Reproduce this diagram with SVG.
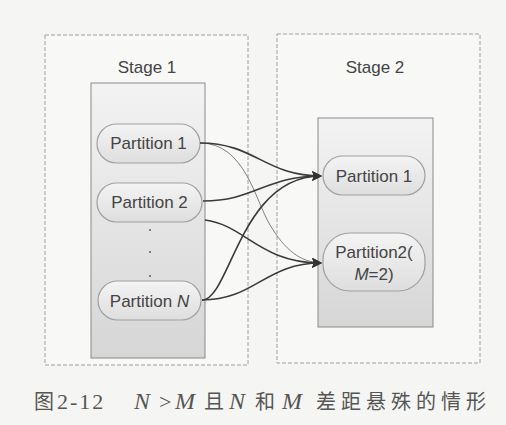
<svg xmlns="http://www.w3.org/2000/svg" width="506" height="425" viewBox="0 0 506 425">
<defs>
<linearGradient id="stageFill" x1="0" y1="0" x2="0" y2="1">
<stop offset="0" stop-color="#f3f3f3"/>
<stop offset="1" stop-color="#d6d6d6"/>
</linearGradient>
<linearGradient id="pillFill" x1="0" y1="0" x2="0" y2="1">
<stop offset="0" stop-color="#f4f4f4"/>
<stop offset="1" stop-color="#dedede"/>
</linearGradient>
<marker id="arrow" viewBox="0 0 10 10" refX="9" refY="5" markerWidth="10" markerHeight="10" markerUnits="userSpaceOnUse" orient="auto">
<path d="M0,0 L10,5 L0,10 L2,5 Z" fill="#333"/>
</marker>
<style>
.outer{fill:#f8f8f7;stroke:#a0a0a0;stroke-width:1;stroke-dasharray:4,2}
.inner{fill:url(#stageFill);stroke:#8a8a8a;stroke-width:1}
.pill{fill:url(#pillFill);stroke:#a0a0a0;stroke-width:1.2}
.lbl{font-family:"Liberation Sans",Arial,sans-serif;font-size:17px;fill:#444;text-anchor:middle}
.edge{fill:none;stroke:#3a3a3a;stroke-width:1.6}
.thin{fill:none;stroke:#808080;stroke-width:1}
.cap{font-family:"Liberation Serif","Noto Sans CJK SC",serif;font-size:22px;fill:#555}
.cjk{font-size:20px}
.it{font-style:italic;font-size:24px}
</style>
</defs>
<rect width="506" height="425" fill="#f5f5f3"/>

<g id="stage1">
<rect class="outer" x="45" y="35" width="203" height="330"/>
<text class="lbl" x="147" y="73">Stage 1</text>
<rect class="inner" x="91" y="83" width="114" height="275"/>
</g>

<g id="stage2">
<rect class="outer" x="277" y="34" width="203" height="329"/>
<text class="lbl" x="375" y="73">Stage 2</text>
<rect class="inner" x="318" y="118" width="115" height="209"/>
</g>

<g id="s1p1">
<rect class="pill" x="97" y="124" width="103" height="39" rx="19.5"/>
<text class="lbl" x="148.5" y="149">Partition 1</text>
</g>
<g id="s1p2">
<rect class="pill" x="97" y="183" width="105" height="39" rx="19.5"/>
<text class="lbl" x="149.5" y="208">Partition 2</text>
</g>
<g id="dots">
<circle cx="150" cy="230" r="1.1" fill="#666"/>
<circle cx="150" cy="252" r="1.1" fill="#666"/>
<circle cx="150" cy="276" r="1.1" fill="#666"/>
</g>
<g id="s1pN">
<rect class="pill" x="98" y="281" width="103" height="39" rx="19.5"/>
<text class="lbl" x="149.5" y="307">Partition <tspan font-style="italic">N</tspan></text>
</g>

<g id="s2p1">
<rect class="pill" x="323" y="156" width="102" height="39" rx="19.5"/>
<text class="lbl" x="374" y="182">Partition 1</text>
</g>
<g id="s2p2">
<rect class="pill" x="323" y="233" width="102" height="58" rx="27"/>
<text class="lbl" x="374" y="258">Partition2(</text>
<text class="lbl" x="374" y="280"><tspan font-style="italic">M</tspan>=2)</text>
</g>

<g id="connectors">
<path class="thin" d="M200,143 C245,143 255,200 270,225 C285,250 300,262 321,263" marker-end="url(#arrow)"/>
<path class="edge" d="M200,143 C255,143 265,176 321,176" marker-end="url(#arrow)"/>
<path class="edge" d="M203,201 C255,201 265,176 321,176" marker-end="url(#arrow)"/>
<path class="edge" d="M205,220 C245,225 260,263 321,263" marker-end="url(#arrow)"/>
<path class="edge" d="M202,300 C230,300 240,176 321,176" marker-end="url(#arrow)"/>
<path class="edge" d="M202,300 C255,300 265,263 321,263" marker-end="url(#arrow)"/>
</g>

<text class="cap" y="409"><tspan class="cjk" x="34">图</tspan><tspan x="57" letter-spacing="2">2-12</tspan><tspan class="it" x="134">N</tspan><tspan x="159">&gt;</tspan><tspan class="it" x="175">M</tspan><tspan class="cjk" x="204">且</tspan><tspan class="it" x="229">N</tspan><tspan class="cjk" x="255">和</tspan><tspan class="it" x="282">M</tspan><tspan class="cjk" x="316" letter-spacing="5">差距悬殊的情形</tspan></text>
</svg>
